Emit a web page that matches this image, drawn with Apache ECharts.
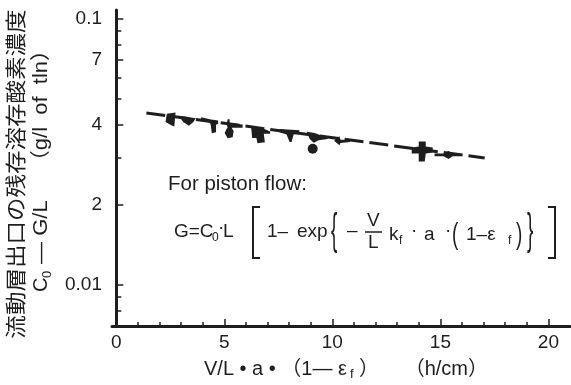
<!DOCTYPE html>
<html>
<head>
<meta charset="utf-8">
<script src="https://cdn.jsdelivr.net/npm/echarts@6/dist/echarts.min.js"></script>
<style>html,body{margin:0;padding:0;background:#fff}#c{width:571px;height:385px}</style>
</head>
<body>
<div id="c"></div>
<script>
// ---- data ----
const xLabelValues = [0, 5, 10, 15, 20];
const xMinorTickValues = [1,2,3,4,6,7,8,9,11,12,13,14,16,17,18,19];
const xMajorTickValues = [5, 10, 15, 20];
const yLabelValues = [0.01, 0.02, 0.04, 0.07, 0.1];
const yLabelTexts = ['0.01', '2', '4', '7', '0.1'];
const yMinorTickValues = [0.008, 0.009, 0.03, 0.05, 0.06, 0.08, 0.09];
const fitX = [1.39, 17.05];
const fitY = [0.0443, 0.0300];
const pointX = [2.51, 3.28, 4.32, 5.43, 6.68, 8.02, 9.30, 9.09, 10.45, 14.16, 15.31];
const pointY = [0.0418, 0.0414, 0.0398, 0.0386, 0.0365, 0.0364, 0.0359, 0.0325, 0.0348, 0.0317, 0.0308];

// ---- marker styles (irregular printed blobs) ----
const markerShapes = [
  ['path://M1,1 L8,0 L7,12 L5,11 L0,8 Z', [10, 14]],
  ['path://M0,0 L15,2 L13,5 L9,8 L4,5 Z', [17, 10]],
  ['path://M0,0 L9,2 L16,3 L16,6 L14,7 L14,14 L10,15 L9,7 L8,5 L0,2 Z', [17, 16]],
  ['path://M3,0 L5,0 L5,4 L18,5 L18,8 L7,8 L9,11 L8,17 L3,18 L0,13 L2,9 L3,8 L2,5 Z', [18, 19]],
  ['path://M0,0 L11,1 L18,4 L18,6 L12,6 L13,14 L6,15 L5,10 L1,10 Z', [19, 16]],
  ['path://M0,0 L20,1 L19,4 L14,5 L12,12 L10,12 L7,5 L0,3 Z', [20, 13]],
  ['path://M0,0 L8,1 L14,3 L21,4 L21,6 L12,7 L7,9 L3,6 Z', [21, 11]],
  ['circle', [10, 10]],
  ['path://M0,4 L5,0 L6,3 L15,3 L15,5 L6,6 L5,8 Z', [16, 9]],
  ['path://M7,0 L14,0 L14,5 L21,6 L21,11 L14,12 L13,20 L7,20 L7,12 L0,12 L0,6 L7,5 Z', [21, 20]],
  ['path://M0,2 L9,2 L14,0 L18,2 L25,3 L25,4 L18,4 L14,6 L9,4 L0,4 Z', [25, 8]]
];

const INK = '#1e1e1e';
const FONT = '"Liberation Sans", Arial, "Noto Sans CJK JP", sans-serif';
const JFONT = '"Noto Sans CJK JP", sans-serif';
const chart = echarts.init(document.getElementById('c'), null, {renderer: 'canvas'});

const fitData = fitX.map((x, i) => [x, fitY[i]]);
const pointData = pointX.map((x, i) => ({
  value: [x, pointY[i]],
  symbol: markerShapes[i][0],
  symbolSize: markerShapes[i][1]
}));

function T(text, x, y, size, extra) {
  return Object.assign({
    type: 'text', x: x, y: y,
    style: {text: text, fontSize: size, fontFamily: FONT, fill: INK, align: 'left', verticalAlign: 'middle'}
  }, extra || {});
}
function big(text, x, y, sy) {
  return {type: 'text', x: x, y: y, scaleY: sy,
    style: {text: text, fontSize: 19, fontFamily: FONT, fill: INK, align: 'left', verticalAlign: 'middle'}};
}

const baseX = {
  type: 'value', min: -0.2, max: 21, position: 'bottom',
  splitLine: {show: false}
};
const baseY = {
  type: 'log', logBase: 10, min: 0.007, max: 0.108, position: 'left',
  splitLine: {show: false}
};

const MY = 232; // formula main line centre

chart.setOption({
  animation: false,
  backgroundColor: '#fff',
  grid: {left: 112, right: 1, top: 10, bottom: 59, containLabel: false, outerBoundsMode: 'none'},
  xAxis: [
    Object.assign({}, baseX, {
      axisLine: {show: true, lineStyle: {color: INK, width: 3}},
      axisTick: {show: true, inside: true, length: 4, lineStyle: {color: INK, width: 1.5}, customValues: xMinorTickValues},
      axisLabel: {show: true, customValues: xLabelValues, margin: 7, fontSize: 19, color: INK, fontFamily: FONT},
      name: '{t|V/L • a • （1— ε}{s|f}{t| ）　 　（h/cm）}',
      nameLocation: 'middle', nameGap: 31,
      nameTextStyle: {
        padding: [0, 0, 0, 10],
        rich: {
          t: {fontSize: 20, fontFamily: FONT, color: INK},
          s: {fontSize: 13, fontFamily: FONT, color: INK, padding: [11, 0, 0, 3]}
        }
      }
    }),
    Object.assign({}, baseX, {
      axisLine: {show: false},
      axisTick: {show: true, inside: true, length: 7, lineStyle: {color: INK, width: 1.5}, customValues: xMajorTickValues},
      axisLabel: {show: false}
    })
  ],
  yAxis: [
    Object.assign({}, baseY, {
      axisLine: {show: true, lineStyle: {color: INK, width: 3}},
      axisTick: {show: true, inside: true, length: 5, lineStyle: {color: INK, width: 1.5}, customValues: yMinorTickValues},
      axisLabel: {
        show: true, customValues: yLabelValues, margin: 10, fontSize: 19, color: INK, fontFamily: FONT,
        formatter: function (v) {
          for (let i = 0; i < yLabelValues.length; i++) {
            if (Math.abs(yLabelValues[i] - v) < 1e-9) return yLabelTexts[i];
          }
          return '';
        }
      }
    }),
    Object.assign({}, baseY, {
      axisLine: {show: false},
      axisTick: {show: true, inside: true, length: 7, lineStyle: {color: INK, width: 1.5}, customValues: yLabelValues},
      axisLabel: {show: false}
    })
  ],
  series: [
    {
      type: 'line', data: fitData, xAxisIndex: 0, yAxisIndex: 0,
      symbol: 'none', silent: true,
      lineStyle: {color: INK, width: 3, type: [19, 6]}
    },
    {
      type: 'scatter', data: pointData, xAxisIndex: 0, yAxisIndex: 0,
      itemStyle: {color: INK, opacity: 1}
    }
  ],
  graphic: [
    // y-axis title, first column
    {type: 'text', x: 15, y: 174, rotation: Math.PI / 2, scaleX: 1.12,
      style: {text: '流動層出口の残存溶存酸素濃度', fontSize: 21, fontFamily: JFONT, fill: INK, align: 'center', verticalAlign: 'middle'}},
    // y-axis title, second column (reads bottom to top)
    {type: 'group', x: 41, y: 292, rotation: Math.PI / 2, children: [
      T('C', 0, 0, 20),
      T('0', 14, 6, 13),
      T(' — G/L　 （g/l  of  tln）', 22, 0, 20, {scaleX: 1.1})
    ]},
    // annotation
    T('For piston flow:', 168, 184, 20.5),
    T('G=C', 174, MY, 19),
    T('0', 212, MY + 6, 12),
    T('·', 218, MY - 4, 19),
    T('L', 223, MY, 19),
    {type: 'polyline', shape: {points: [[260, 207], [253, 207], [253, 258], [260, 258]]}, style: {stroke: INK, lineWidth: 2, fill: null}},
    T('1–', 267, MY, 19),
    T('exp', 297, MY, 19),
    big('{', 331, MY, 2.3),
    T('–', 347, MY - 1, 19),
    T('V', 367, MY - 11, 19),
    {type: 'line', shape: {x1: 365, y1: MY, x2: 382, y2: MY}, style: {stroke: INK, lineWidth: 1.5}},
    T('L', 368, MY + 11, 19),
    T('k', 389, MY + 3, 19),
    T('f', 399, MY + 9, 12),
    T('·', 411, MY - 1, 19),
    T('a', 424, MY + 3, 19),
    T('·', 445, MY - 1, 19),
    big('(', 452, MY + 4, 1.6),
    T('1–ε', 466, MY + 3, 19),
    T('f', 508, MY + 9, 12),
    big(')', 516, MY + 4, 1.6),
    big('}', 527, MY, 2.3),
    {type: 'polyline', shape: {points: [[548, 207], [555, 207], [555, 258], [548, 258]]}, style: {stroke: INK, lineWidth: 2, fill: null}}
  ]
});
</script>
</body>
</html>
